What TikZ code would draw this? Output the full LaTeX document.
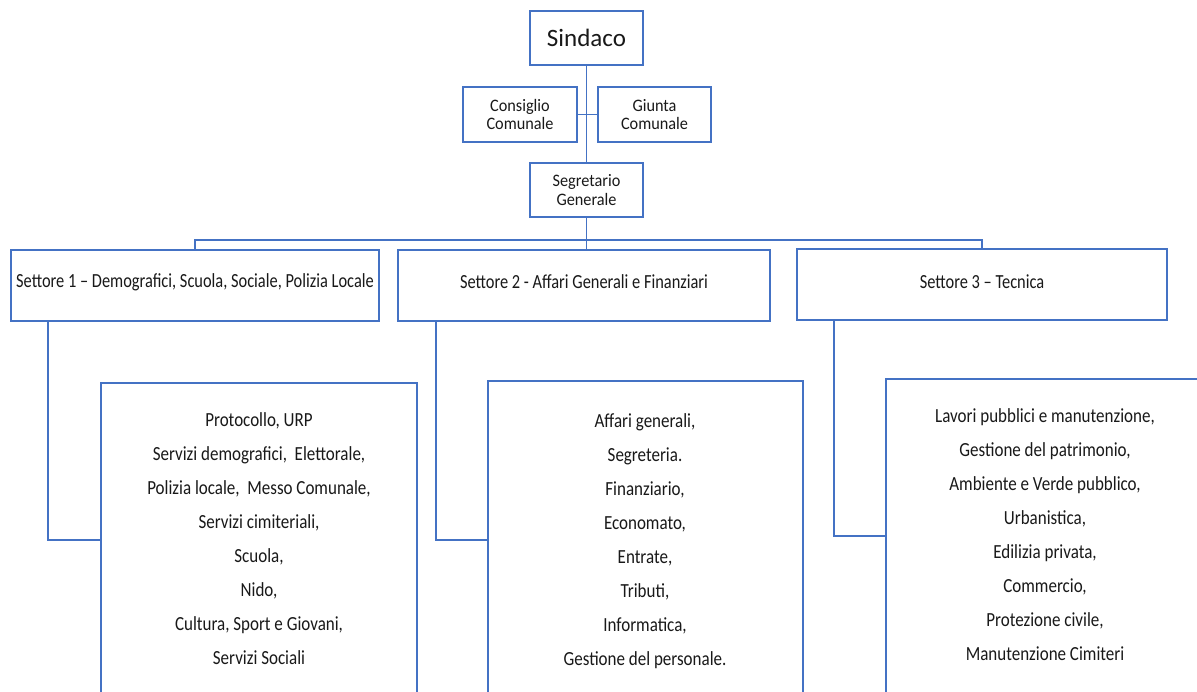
\documentclass[tikz,border=0pt]{standalone}
\usepackage{fontspec}
\setmainfont{Carlito}
\newfontfamily\bodyf{Carlito}[FakeStretch=0.85]
\newfontfamily\setf{Carlito}[FakeStretch=0.82]
\newfontfamily\midf{Carlito}[FakeStretch=0.93]
\begin{document}
\begin{tikzpicture}[x=1pt,y=-1pt,
  every node/.style={inner sep=0pt, text=black!90},
  box/.style={draw=boxblue, line width=1.4pt, fill=white},
  conn/.style={draw=boxblue, line width=1.4pt},
  settext/.style={font=\setf\fontsize{20}{22}\selectfont},
  listtext/.style={font=\bodyf\fontsize{20}{34}\selectfont, align=center, anchor=north},
  smalltext/.style={font=\midf\fontsize{17.5}{18.5}\selectfont, align=center}]
\definecolor{boxblue}{RGB}{68,114,196}
\useasboundingbox (0,0) rectangle (1197,691);
\clip (0,0) rectangle (1197,691);

% top
\node[box, minimum width=113pt, minimum height=54pt, font=\fontsize{25}{28}\selectfont] (sind) at (586.5,38) {Sindaco};
\node[box, minimum width=114pt, minimum height=55pt, smalltext] (cons) at (520,114.5) {Consiglio\\Comunale};
\node[box, minimum width=113pt, minimum height=55pt, smalltext] (giun) at (654.5,114.5) {Giunta\\Comunale};
\node[box, minimum width=113pt, minimum height=54pt, smalltext] (segr) at (586.5,190) {Segretario\\Generale};

\draw[conn] (sind.south) -- (segr.north);
\draw[conn] (cons.east) -- (giun.west);

% settori
\node[box, minimum width=368pt, minimum height=71pt] (s1) at (195,285.5) {};
\node[box, minimum width=372pt, minimum height=71pt] (s2) at (584,285.5) {};
\node[box, minimum width=370pt, minimum height=71pt] (s3) at (982,284.5) {};
\node[settext] (s1t) at (195,282) {Settore 1 – Demografici, Scuola, Sociale, Polizia Locale};
\node[settext] (s2t) at (584,282) {Settore 2 - Affari Generali e Finanziari};
\node[settext] (s3t) at (982,282) {Settore 3 – Tecnica};

\coordinate (bus) at (586.5,240);
\draw[conn] (segr.south) -- (bus);
\draw[conn] (s1.north) |- (bus) -| (s3.north);
\draw[conn] (bus) -- (bus |- s2.north);

% content boxes
\node[box, minimum width=316pt, minimum height=340pt] (c1) at (259,553) {};
\node[box, minimum width=315pt, minimum height=340pt] (c2) at (645.5,551) {};
\node[box, minimum width=330pt, minimum height=340pt] (c3) at (1051,549) {};

\coordinate (j1) at (48,540);
\coordinate (j2) at (436,540);
\coordinate (j3) at (834,536);
\draw[conn] (s1.south -| j1) -- (j1) -- (j1 -| c1.west);
\draw[conn] (s2.south -| j2) -- (j2) -- (j2 -| c2.west);
\draw[conn] (s3.south -| j3) -- (j3) -- (j3 -| c3.west);

\node[listtext] (c1t) at (259,412) {Protocollo, URP\\Servizi demografici,\ \ Elettorale,\\Polizia locale,\ \ Messo Comunale,\\Servizi cimiteriali,\\Scuola,\\Nido,\\Cultura, Sport e Giovani,\\Servizi Sociali};
\node[listtext] (c2t) at (645,413.5) {Affari generali,\\Segreteria.\\Finanziario,\\Economato,\\Entrate,\\Tributi,\\Informatica,\\Gestione del personale.};
\node[listtext] (c3t) at (1045,408.5) {Lavori pubblici e manutenzione,\\Gestione del patrimonio,\\Ambiente e Verde pubblico,\\Urbanistica,\\Edilizia privata,\\Commercio,\\Protezione civile,\\Manutenzione Cimiteri};
\end{tikzpicture}
\end{document}
